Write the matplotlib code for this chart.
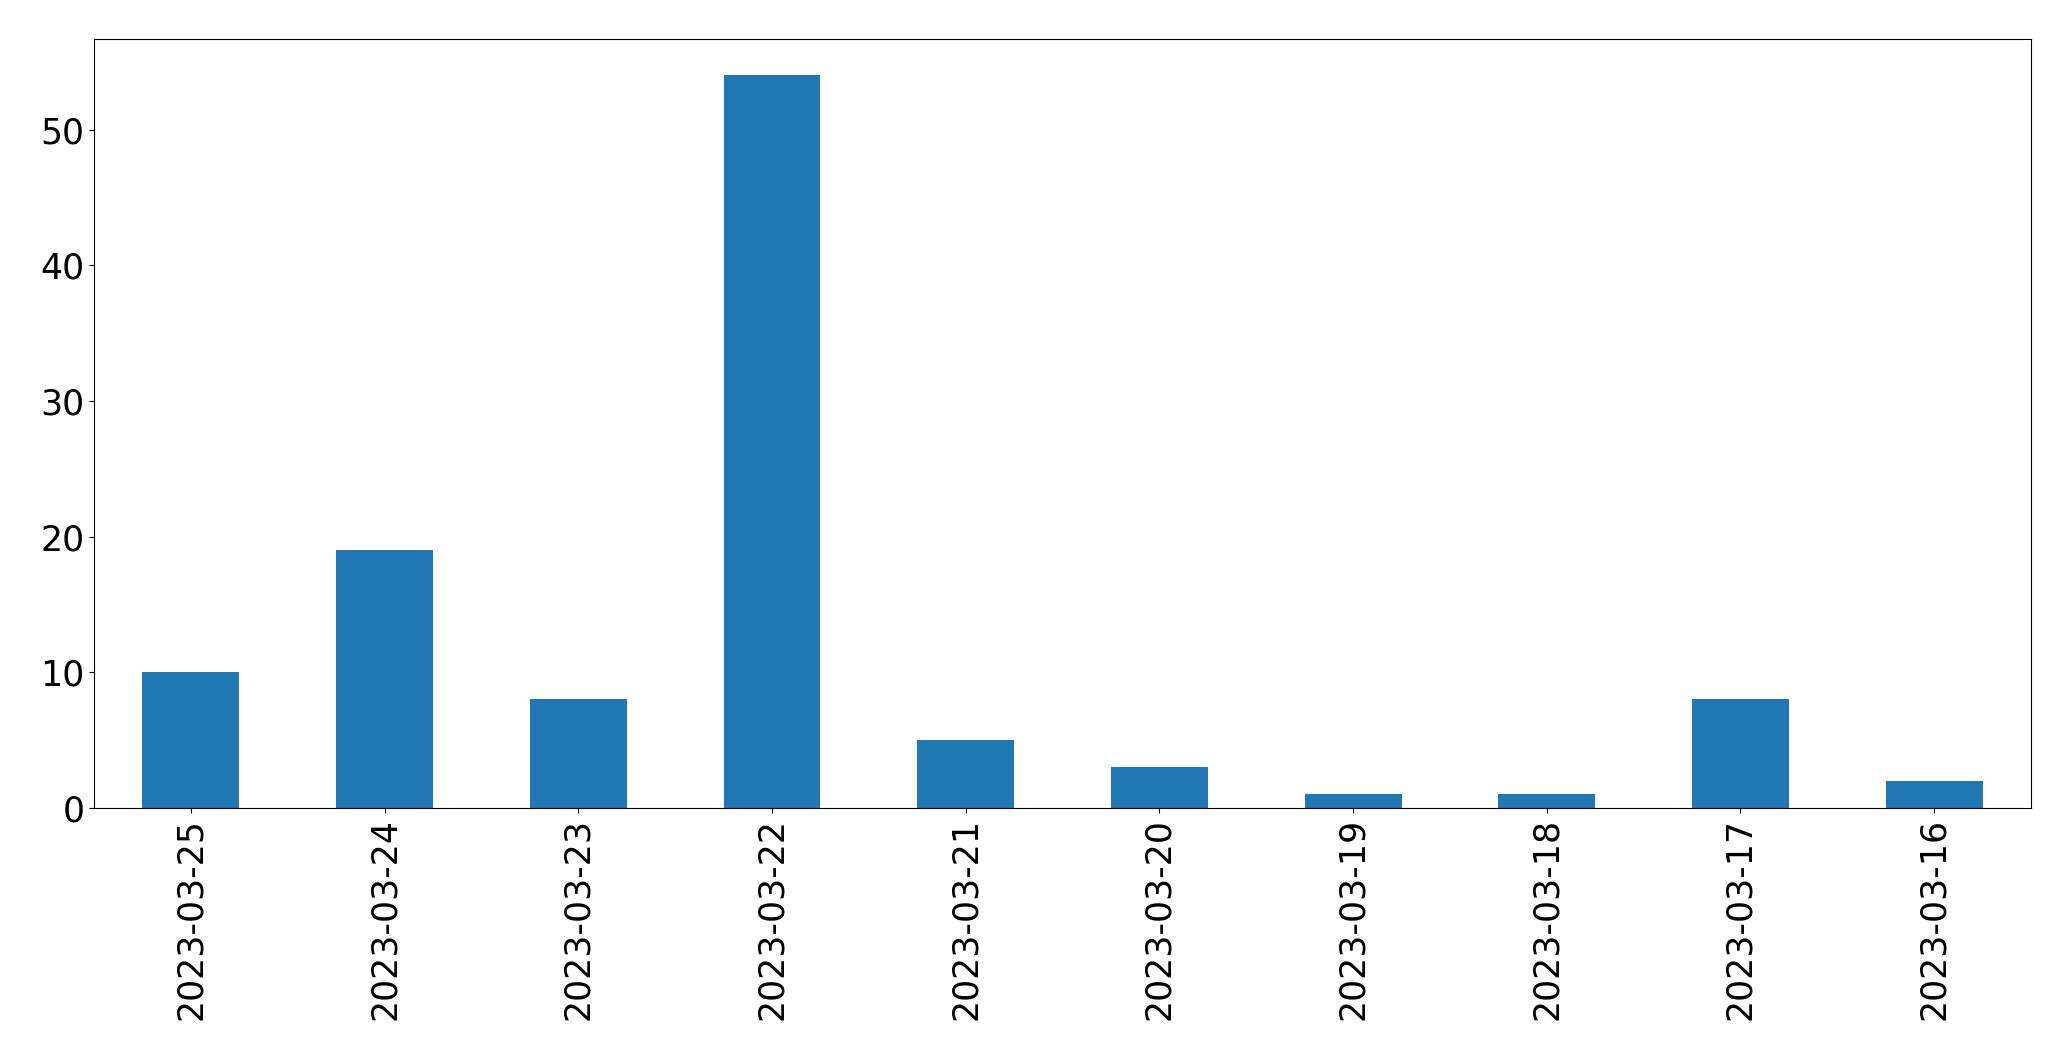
import matplotlib
matplotlib.use("Agg")
import matplotlib.pyplot as plt
import pandas as pd

dates = ["2023-03-25", "2023-03-24", "2023-03-23", "2023-03-22", "2023-03-21",
         "2023-03-20", "2023-03-19", "2023-03-18", "2023-03-17", "2023-03-16"]
counts = [10, 19, 8, 54, 5, 3, 1, 1, 8, 2]

s = pd.Series(counts, index=dates)

fig = plt.figure(figsize=(20.71, 10.61), dpi=100)
ax = fig.add_axes([0.0454, 0.2385, 0.9353, 0.7250])
s.plot(kind="bar", ax=ax, fontsize=25, color="#1f77b4")
ax.tick_params(axis="x", labelrotation=90)
fig.savefig("out.png", dpi=100)
